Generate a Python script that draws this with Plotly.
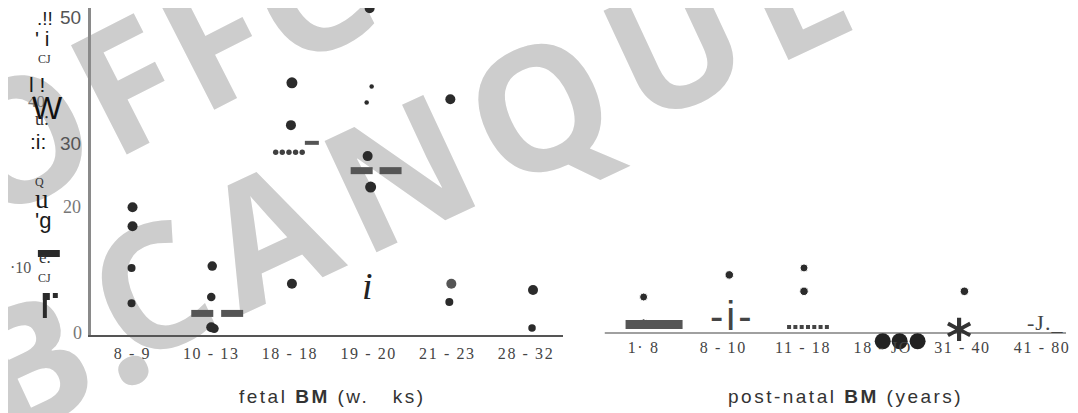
import plotly.graph_objects as go

W, H = 1078, 413
OFF = 8  # page body margin in the browser

# ---------------- data ----------------
fetal_categories = ["8 - 9", "10 - 13", "18 - 18", "19 - 20", "21 - 23", "28 - 32"]
post_categories = ["1\u00b7 8", "8 - 10", "11 - 18", "18 - JO", "31 - 40", "41 - 80"]

# individual fetal values (category index, value)
fetal_cat = [0, 0, 0, 0, 1, 1, 1, 1, 2, 2, 2, 3, 3, 3, 3, 3, 4, 4, 4, 5, 5]
fetal_val = [19.9, 16.9, 10.3, 4.7, 10.6, 5.7, 0.9, 0.7, 39.6, 32.9, 7.8,
             51.4, 39.0, 36.5, 28.0, 23.1, 37.0, 7.8, 4.9, 6.8, 0.8]

# fetal median marks
fetal_med_cat = [1, 1, 2, 3, 3]
fetal_med_val = [3.1, 3.1, 30.1, 25.7, 25.7]

# row of small dots (18 - 18)
fetal_row_cat = 2
fetal_row_val = 28.6

# post-natal values
post_cat = [0, 0, 1, 2, 2, 4]
post_val = [5.7, 1.6, 9.2, 10.3, 6.6, 6.6]
post_big_cat = [3, 3, 3]
post_big_val = [-1.3, -1.3, -1.3]
post_bar_cat = 0
post_bar_val = 1.35
post_dotline_cat = 2
post_dotline_val = 0.95

# glyph marks (text) inside panels
glyph_panel = ["fetal", "post", "post", "post"]
glyph_cat = [3, 1, 4, 5]
glyph_val = [7.4, 2.7, 0.6, 1.7]
glyph_text = ["i", "-i-", "*", "-J._"]

y_tick_vals = [50, 30, 20, 0]
y_tick_text = ["50", "30", "20", "0"]

side_text = [".!!", "' i", "CJ", "l !", "40", "W", "u:", ":i:", "Q", "u", "'g",
             "e.", "\u00b710", "CJ"]

x_titles = ["fetal <b>BM</b> (w.\u00a0\u00a0\u00a0ks)", "post-natal <b>BM</b> (years)"]

watermark = ["OFFC", "B.", "CANQUE"]

# ---------------- geometry / style ----------------
L0, L1, LC, LS = 91, 565, 133, 79.0
R0, R1, RC, RS = 607, 1070, 646, 80.0
OFF_TOP = 8
Y0PX, PPU = 333, 6.32
ytop = (Y0PX - OFF_TOP) / PPU + 0.02
ybot = (Y0PX - 335) / PPU
ybot2 = (Y0PX - 352) / PPU
FW, FH = W - OFF, H - OFF


def px(x):
    return (x - OFF) / FW


def py(y):
    return min(1.0, max(0.0, 1 - (y - OFF) / FH))


serif = "Liberation Serif"
sans = "Liberation Sans"
LINE_EW = 1.4  # plotly's line-ew length factor

fetal_size = [10, 10, 8, 8, 9.5, 8.5, 10, 9, 11, 10, 10, 10, 4.5, 4.5, 10, 11, 10, 10, 8, 10, 7.5]
fetal_dx = [0, 0, -1, -1, 1, 0, 0, 3, 2, 1, 2, 1, 3, -2, -1, 2, 3, 4, 2, 7, 6]
fetal_col = ["#2b2b2b"] * len(fetal_val)
fetal_col[17] = "#555555"

fig = go.Figure()

fig.add_trace(go.Scatter(
    x=[c + d / LS for c, d in zip(fetal_cat, fetal_dx)], y=fetal_val,
    mode="markers", marker=dict(size=fetal_size, color=fetal_col, opacity=1, line=dict(width=0)),
    xaxis="x", yaxis="y", cliponaxis=False, hoverinfo="skip"))

med_dx = [-9, 21, 22, -7, 22]
med_len = [22, 22, 14, 22, 22]
med_w = [7, 7, 4, 7, 7]
fig.add_trace(go.Scatter(
    x=[c + d / LS for c, d in zip(fetal_med_cat, med_dx)], y=fetal_med_val,
    mode="markers", marker=dict(symbol="line-ew", size=[l / LINE_EW for l in med_len], opacity=1,
                                line=dict(width=med_w, color="#555")),
    xaxis="x", yaxis="y", cliponaxis=False, hoverinfo="skip"))

row_dx = [-14.3, -7.7, -1.0, 5.7, 12.3]
fig.add_trace(go.Scatter(
    x=[fetal_row_cat + d / LS for d in row_dx], y=[fetal_row_val] * len(row_dx),
    mode="markers", marker=dict(size=5.4, color="#404040", opacity=1),
    xaxis="x", yaxis="y", cliponaxis=False, hoverinfo="skip"))

post_size = [8, 8, 8.5, 8, 8.5, 8.5]
post_dx = [0, 0, 6, 1, 1, 2]
fig.add_trace(go.Scatter(
    x=[c + d / RS for c, d in zip(post_cat, post_dx)], y=post_val,
    mode="markers", marker=dict(size=post_size, color="#2b2b2b", opacity=1),
    xaxis="x2", yaxis="y2", cliponaxis=False, hoverinfo="skip"))

big_dx = [0, 17, 35]
fig.add_trace(go.Scatter(
    x=[c + d / RS for c, d in zip(post_big_cat, big_dx)], y=post_big_val,
    mode="markers", marker=dict(size=16, color="#222", opacity=1),
    xaxis="x2", yaxis="y2", cliponaxis=False, hoverinfo="skip"))

fig.add_trace(go.Scatter(
    x=[post_bar_cat + 10.5 / RS], y=[post_bar_val],
    mode="markers", marker=dict(symbol="line-ew", size=57 / LINE_EW, opacity=1,
                                line=dict(width=9, color="#555")),
    xaxis="x2", yaxis="y2", cliponaxis=False, hoverinfo="skip"))

fig.add_trace(go.Scatter(
    x=[post_dotline_cat - 16 / RS, post_dotline_cat + 28 / RS],
    y=[post_dotline_val, post_dotline_val],
    mode="lines", line=dict(width=4, color="#444", dash="4px,2.3px"),
    xaxis="x2", yaxis="y2", cliponaxis=False, hoverinfo="skip"))

ann = []

# glyph marks
g_style = [
    dict(family=serif, size=38, color="#222", style="italic", dx=-1, ys=0, ls=0),
    dict(family=sans, size=40, color="#444", style="normal", dx=9, ys=0, ls=3),
    dict(family="DejaVu Sans", size=50, color="#333", style="normal", dx=-3, ys=-9, ls=0, weight="bold"),
    dict(family=serif, size=22, color="#444", style="normal", dx=3, ys=0, ls=1),
]
for p, c, v, t, s in zip(glyph_panel, glyph_cat, glyph_val, glyph_text, g_style):
    step = LS if p == "fetal" else RS
    txt = t if s["ls"] == 0 else '<span style="letter-spacing:%dpx">%s</span>' % (s["ls"], t)
    ann.append(dict(
        x=c + s["dx"] / step, y=v, xref="x" if p == "fetal" else "x2",
        yref="y" if p == "fetal" else "y2", text=txt, showarrow=False,
        xanchor="center", yanchor="middle", yshift=s["ys"],
        font=dict(family=s["family"], size=s["size"], color=s["color"],
                  style=s["style"], weight=s.get("weight", "normal"))))

# y tick labels
tick_font = [(sans, 19, "#555"), (sans, 19, "#555"), (serif, 18, "#777"), (serif, 18, "#777")]
tick_xr = [83, 83, 83, 84]
for v, t, f, xr in zip(y_tick_vals, y_tick_text, tick_font, tick_xr):
    ann.append(dict(x=px(xr), y=v, xref="paper", yref="y", text=t, showarrow=False,
                    xanchor="right", yanchor="middle",
                    font=dict(family=f[0], size=f[1], color=f[2])))

# OCR glyph column at the left
side_pos = [(45, 18), (43, 39), (45, 59), (37, 85), (37, 101), (48, 108), (42, 119),
            (38, 142), (40, 182), (42, 199), (43, 220), (45, 257), (21, 267), (45, 278)]
side_font = [(sans, 19, "#1a1a1a"), (sans, 21, "#1a1a1a"), (serif, 12, "#333"), (sans, 21, "#1a1a1a"),
             (serif, 17, "#777"), (sans, 32, "#111"), (serif, 18, "#333"), (sans, 21, "#1a1a1a"),
             (serif, 12, "#333"), (serif, 27, "#1a1a1a"), (sans, 22, "#1a1a1a"), (serif, 17, "#333"),
             (serif, 16, "#555"), (serif, 12, "#333")]
for t, (x, y), f in zip(side_text, side_pos, side_font):
    ann.append(dict(x=px(x), y=py(y), xref="paper", yref="paper", text=t, showarrow=False,
                    xanchor="center", yanchor="middle",
                    font=dict(family=f[0], size=f[1], color=f[2])))

# axis titles
for t, cx in zip(x_titles, [334, 849]):
    ann.append(dict(x=px(cx), y=py(396), xref="paper", yref="paper",
                    text='<span style="letter-spacing:2.5px">%s</span>' % t, showarrow=False,
                    xanchor="center", yanchor="middle",
                    font=dict(family=sans, size=19, color="#333")))

shapes = []
# watermark (behind everything)
wm_pos = [(164, 74), (63, 356), (480, 144)]
wm_angle = [-27, -25, -25]
wm_ls = [4, 10, 16]
for t, (cx, cy), ang, ls in zip(watermark, wm_pos, wm_angle, wm_ls):
    shapes.append(dict(type="rect", xref="paper", yref="paper",
                       x0=(cx - OFF - 0.5) / FW, x1=(cx - OFF + 0.5) / FW,
                       y0=1 - (cy - OFF + 0.5) / FH, y1=1 - (cy - OFF - 0.5) / FH,
                       line=dict(width=0), fillcolor="rgba(0,0,0,0)", layer="below",
                       label=dict(text='<span style="letter-spacing:%dpx">%s</span>' % (ls, t),
                                  textangle=ang, textposition="middle center",
                                  font=dict(family="Open Sans", size=172, color="#cdcdcd",
                                            weight="bold"))))

# right-panel baseline at value 0
shapes.append(dict(type="line", xref="paper", yref="y2", x0=px(R0), x1=px(R1), y0=0, y1=0,
                   line=dict(color="#a0a0a0", width=2), layer="below"))

# small dark blocks in the left OCR column
for (x0, y0, x1, y1) in [(38, 250, 60, 257), (43, 293, 47, 318), (43, 293, 50, 300), (53, 293, 58, 298)]:
    shapes.append(dict(type="rect", xref="paper", yref="paper",
                       x0=px(x0), x1=px(x1), y0=py(y1), y1=py(y0),
                       line=dict(width=0), fillcolor="#2a2a2a", layer="above"))

tick_fmt = '<span style="letter-spacing:1.6px">%s</span>'
fig.update_layout(
    width=FW, height=FH, margin=dict(l=0, r=0, t=0, b=0),
    paper_bgcolor="white", plot_bgcolor="rgba(0,0,0,0)", showlegend=False,
    xaxis=dict(domain=[px(L0), px(L1)], range=[-(LC - L0) / LS, (L1 - LC) / LS],
               anchor="y", showgrid=False, zeroline=False, showline=True,
               linecolor="#555", linewidth=2, ticks="",
               tickvals=list(range(len(fetal_categories))),
               ticktext=[tick_fmt % c.replace(" ", "\u00a0") for c in fetal_categories],
               tickfont=dict(family=serif, size=16, color="#444"), ticklabelstandoff=3,
               fixedrange=True),
    yaxis=dict(domain=[py(335), 1.0], range=[ybot, ytop], anchor="x",
               showgrid=False, zeroline=False, showline=True, linecolor="#8a8a8a",
               linewidth=2.5, ticks="", showticklabels=False, fixedrange=True),
    xaxis2=dict(domain=[px(R0), px(R1)], range=[-(RC - R0) / RS, (R1 - RC) / RS],
                anchor="free", position=py(Y0PX), showgrid=False, zeroline=False,
                showline=False, ticks="",
                tickvals=list(range(len(post_categories))),
                ticktext=[tick_fmt % c.replace(" ", "\u00a0") for c in post_categories],
                tickfont=dict(family=serif, size=16, color="#444"), ticklabelstandoff=3,
                fixedrange=True),
    yaxis2=dict(domain=[py(352), 1.0], range=[ybot2, ytop], anchor="x2",
                showgrid=False, zeroline=False, showline=False, ticks="",
                showticklabels=False, fixedrange=True),
    annotations=ann, shapes=shapes,
)

fig.write_html("out.html")
